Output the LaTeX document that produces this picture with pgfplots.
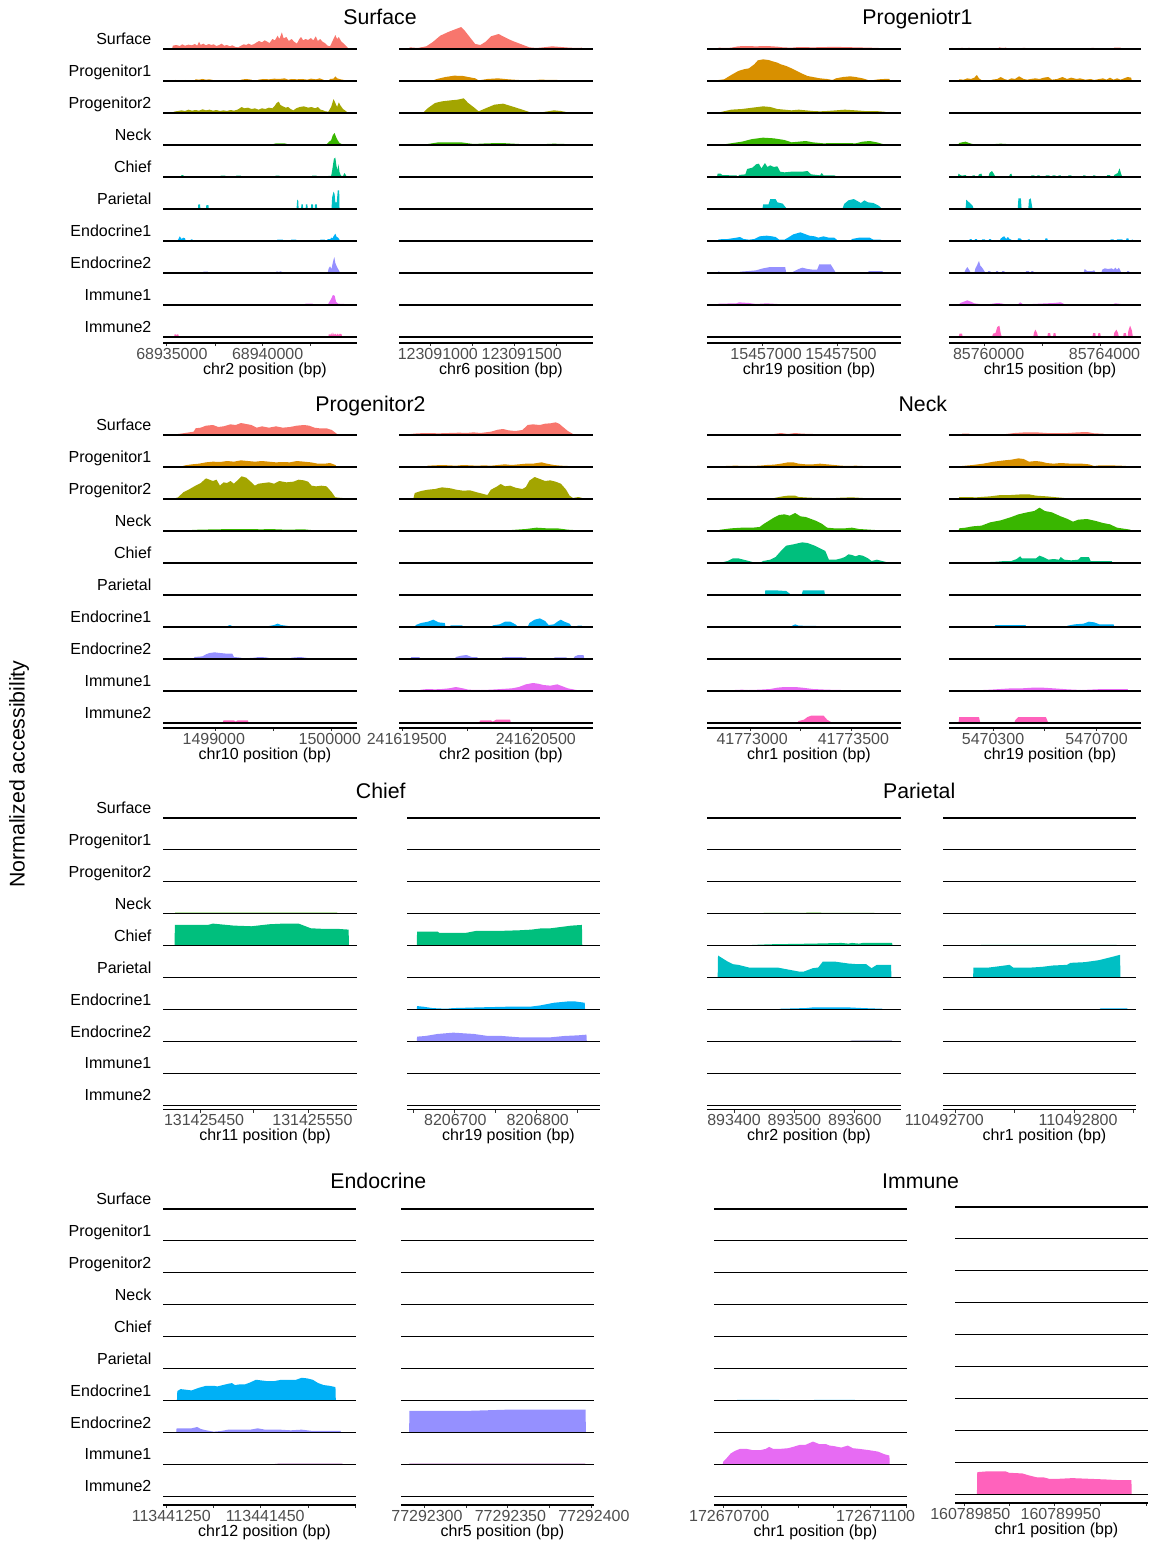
\documentclass[border=0pt]{standalone}
\usepackage{pgfplots}
\pgfplotsset{compat=1.18}
\usepackage{fontspec}
\setmainfont{Liberation Sans}
\definecolor{c1}{HTML}{F8766D}
\definecolor{c2}{HTML}{D89000}
\definecolor{c3}{HTML}{A3A500}
\definecolor{c4}{HTML}{39B600}
\definecolor{c5}{HTML}{00BF7D}
\definecolor{c6}{HTML}{00BFC4}
\definecolor{c7}{HTML}{00B0F6}
\definecolor{c8}{HTML}{9590FF}
\definecolor{c9}{HTML}{E76BF3}
\definecolor{c10}{HTML}{FF62BC}
\definecolor{tk}{HTML}{4D4D4D}
\newcommand\lab{\fontsize{8}{9.6}\selectfont}
\newcommand\ttl{\fontsize{10.65}{12.8}\selectfont}
\pgfplotsset{
  trk/.style={scale only axis, height=16pt, ymin=0, ymax=96, hide axis, clip=false, anchor=south west},
  xax/.style={scale only axis, height=1pt, ymin=0, ymax=1, anchor=south west,
    axis x line=bottom, axis y line=none, x axis line style={-, line width=0.55pt},
    tick align=outside, major tick length=1.5pt, minor tick num=0,
    xtick style={line width=0.5pt, color=black!80},
    xticklabel style={font=\lab, text=tk, anchor=base, inner sep=0pt, yshift=-6.7pt},
    scaled x ticks=false, clip=false},
}
\newcommand\AR[2]{\addplot[draw=none, fill=#1] coordinates {#2} \closedcycle;}
\newcommand\TK[2]{\begin{axis}[trk, at={(\cL*0.5pt,{-(\bz+#1*\bsp)*0.5pt})}, width=\cW, xmin=\zl, xmax=\zr]
#2
\draw[line width=0.55pt] (rel axis cs:0,0)--(rel axis cs:1,0);
\end{axis}}
\newcommand\XA[5]{\begin{axis}[xax, at={(\cL*0.5pt,{-#1*0.5pt})}, width=\cW, xmin=\zl, xmax=\zr, xtick={#2}, xticklabels={#3}, xticklabel style={xshift=#5}]
\node[font=\lab, anchor=base, yshift=-15.5pt, xshift=2.5pt] at (rel axis cs:0.5,0) {#4};
\end{axis}}
\newcommand\COL[4]{\def\cL{#1}\def\cW{#2}\def\zl{#3}\def\zr{#4}}
\begin{document}
\begin{tikzpicture}
\useasboundingbox (0,0) rectangle (577.5pt,-770.5pt);
% ---------- labels ----------
\foreach \n [count=\i from 0] in {Surface,Progenitor1,Progenitor2,Neck,Chief,Parietal,Endocrine1,Endocrine2,Immune1,Immune2}{
  \node[font=\lab, anchor=base east, inner sep=0pt] at (75.9pt,{-(49+\i*32-4.3)*0.5pt}) {\n};
  \node[font=\lab, anchor=base east, inner sep=0pt] at (75.9pt,{-(435+\i*32-4.3)*0.5pt}) {\n};
  \node[font=\lab, anchor=base east, inner sep=0pt] at (75.9pt,{-(818+\i*31.9-4.3)*0.5pt}) {\n};
  \node[font=\lab, anchor=base east, inner sep=0pt] at (75.9pt,{-(1209+\i*31.9-4.3)*0.5pt}) {\n};
}
\node[font=\ttl, anchor=base] at (190pt,-12.5pt) {Surface};
\node[font=\ttl, anchor=base] at (458.75pt,-12.5pt) {Progeniotr1};
\node[font=\ttl, anchor=base] at (185.2pt,-205.6pt) {Progenitor2};
\node[font=\ttl, anchor=base] at (461.4pt,-205.6pt) {Neck};
\node[font=\ttl, anchor=base] at (190.4pt,-399.4pt) {Chief};
\node[font=\ttl, anchor=base] at (459.6pt,-399.4pt) {Parietal};
\node[font=\ttl, anchor=base] at (189.2pt,-594.4pt) {Endocrine};
\node[font=\ttl, anchor=base] at (460.3pt,-594.4pt) {Immune};
\node[font=\ttl, rotate=90] at (9.5pt,-387pt) {Normalized accessibility};
% =================== ROW 1 ===================
\def\bz{49}\def\bsp{32}
% ---- col A
\COL{163}{97pt}{297}{852}
\TK{0}{\AR{c1}{(323,0)(325,10)(335,12)(345,9)(352,14)(360,10)(370,13)(380,11)(388,15)(395,10)(400,22)(405,12)(412,16)(420,11)(428,15)(435,12)(442,14)(450,9)(458,12)(465,16)(472,10)(480,12)(488,8)(495,11)(505,6)(512,5)(520,10)(528,14)(535,12)(542,16)(550,12)(558,15)(565,20)(572,24)(580,20)(588,26)(595,22)(602,18)(610,30)(617,26)(625,40)(630,30)(637,50)(642,32)(650,36)(657,24)(665,30)(672,22)(680,16)(687,30)(692,36)(698,26)(705,30)(712,27)(720,33)(727,26)(734,38)(740,24)(747,30)(753,22)(760,18)(768,10)(775,8)(782,24)(790,42)(795,30)(800,36)(806,24)(812,18)(818,12)(824,6)(828,0)}}
\TK{1}{\AR{c2}{(330,0)(332,3)(345,2)(360,3)(365,0)(385,0)(390,5)(400,4)(410,6)(420,4)(430,5)(440,3)(445,0)(470,0)(475,2)(500,2)(505,0)(515,0)(520,4)(535,6)(550,4)(555,0)(565,0)(570,4)(585,6)(600,5)(615,7)(630,6)(645,8)(655,4)(665,6)(680,5)(695,6)(710,4)(720,7)(735,5)(745,8)(755,4)(765,0)(770,0)(775,6)(785,7)(790,14)(795,8)(805,5)(815,3)(820,0)}}
\TK{2}{\AR{c3}{(325,0)(328,4)(340,6)(350,8)(360,6)(370,10)(380,7)(390,9)(400,7)(410,11)(420,8)(430,10)(440,7)(450,9)(460,6)(470,8)(480,6)(490,9)(500,7)(510,10)(515,13)(522,18)(530,14)(540,16)(550,12)(560,14)(570,10)(580,14)(590,12)(600,16)(610,14)(617,22)(622,30)(628,34)(633,24)(640,20)(648,16)(655,18)(662,12)(670,8)(678,14)(688,18)(700,20)(712,16)(722,18)(732,14)(740,18)(748,10)(755,8)(762,5)(770,4)(778,18)(785,42)(790,30)(795,18)(800,32)(805,22)(812,12)(820,6)(826,0)}}
\TK{3}{\AR{c4}{(300,0)(302,2)(610,2)(620,5)(645,5)(655,2)(765,2)(772,10)(778,14)(783,30)(788,36)(792,24)(797,14)(802,6)(808,3)(815,2)(820,0)}}
\TK{4}{\AR{c5}{(348,0)(350,6)(355,6)(357,0)(460,0)(462,4)(475,4)(477,0)(505,0)(507,4)(520,4)(522,0)(617,0)(619,4)(630,4)(632,0)(722,0)(724,4)(736,4)(738,0)(768,0)(770,3)(778,3)(781,20)(786,55)(790,58)(793,35)(796,20)(799,38)(802,15)(806,4)(812,3)(816,12)(820,6)(823,0)}}
\TK{5}{\AR{c6}{(397,0)(398,14)(403,14)(404,0)(420,0)(421,12)(427,12)(428,0)(679,0)(681,28)(684,24)(685,0)(692,0)(693,14)(697,14)(698,0)(705,0)(706,14)(710,14)(711,0)(720,0)(721,14)(726,14)(727,0)(731,0)(732,14)(737,14)(738,0)(779,0)(781,36)(785,52)(788,44)(790,20)(794,20)(797,56)(801,56)(802,0)}}
\TK{6}{\AR{c7}{(338,0)(340,4)(345,14)(350,6)(355,10)(360,8)(362,0)(375,0)(377,5)(381,5)(383,0)(622,0)(624,4)(640,4)(642,0)(662,0)(664,4)(678,4)(680,0)(745,0)(747,4)(760,4)(762,0)(766,0)(768,6)(776,6)(778,10)(782,8)(785,14)(790,22)(794,12)(798,10)(802,4)(804,0)}}
\TK{7}{\AR{c8}{(410,0)(413,4)(425,4)(427,0)(620,0)(622,5)(628,3)(633,5)(638,3)(640,0)(768,0)(771,14)(775,20)(779,12)(783,32)(787,48)(790,30)(794,20)(798,12)(802,4)(804,0)}}
\TK{8}{\AR{c9}{(380,0)(382,2)(400,2)(402,0)(470,0)(472,2)(480,2)(482,0)(550,0)(552,2)(570,2)(572,0)(630,0)(632,2)(640,2)(642,0)(700,0)(705,4)(725,4)(730,0)(768,0)(772,8)(778,18)(783,30)(788,28)(792,10)(798,4)(815,3)(825,0)}}
\TK{9}{\AR{c10}{(329,0)(330,8)(334,8)(335,3)(337,8)(341,8)(342,0)(770,0)(771,8)(775,8)(776,4)(778,12)(781,4)(783,14)(786,6)(790,10)(793,6)(797,10)(800,6)(803,10)(808,8)(810,0)}}
\XA{343}{308,446,582,720}{68935000,,68940000,}{chr2 position (bp)}{2.5pt}
% ---- col B
\COL{399}{97pt}{977}{1532}
\TK{0}{\AR{c1}{(1005,0)(1008,5)(1030,3)(1055,8)(1075,22)(1095,40)(1120,52)(1140,60)(1155,66)(1165,55)(1180,35)(1195,15)(1210,12)(1225,22)(1240,38)(1262,45)(1280,35)(1300,25)(1325,15)(1350,5)(1370,3)(1390,5)(1415,8)(1440,6)(1465,4)(1490,3)(1500,4)(1502,0)}}
\TK{1}{\AR{c2}{(1000,0)(1005,2)(1020,2)(1025,0)(1070,0)(1085,6)(1110,12)(1135,16)(1160,15)(1175,12)(1195,8)(1205,2)(1230,6)(1260,8)(1290,5)(1320,3)(1360,2)(1380,4)(1430,3)(1440,0)(1495,0)(1500,2)(1505,0)}}
\TK{2}{\AR{c3}{(1045,0)(1060,15)(1080,30)(1100,35)(1125,38)(1145,40)(1162,44)(1175,30)(1190,18)(1205,5)(1220,12)(1250,25)(1275,28)(1300,20)(1330,10)(1350,3)(1385,2)(1420,8)(1440,6)(1460,2)(1462,0)}}
\TK{3}{\AR{c4}{(980,0)(985,2)(1060,3)(1090,8)(1155,8)(1190,3)(1230,5)(1270,6)(1320,3)(1380,2)(1420,4)(1450,3)(1500,2)(1505,0)}}
\TK{4}{}\TK{5}{}\TK{6}{}\TK{7}{}
\TK{8}{\AR{c9}{(1050,0)(1060,3)(1140,3)(1180,2)(1260,3)(1300,0)}}
\TK{9}{}
\XA{343}{1068,1188,1308,1428}{123091000,,123091500,}{chr6 position (bp)}{3.5pt}
% ---- col C
\COL{707}{97pt}{302}{848}
\TK{0}{\AR{c1}{(330,0)(335,4)(355,3)(370,4)(390,8)(410,9)(440,8)(470,9)(500,7)(515,5)(540,4)(560,6)(600,5)(640,6)(680,6)(720,5)(760,4)(785,3)(790,0)}}
\TK{1}{\AR{c2}{(330,0)(335,3)(350,5)(370,18)(390,30)(405,35)(420,38)(435,50)(445,62)(460,65)(475,63)(490,58)(500,55)(510,50)(525,45)(540,38)(555,30)(570,22)(585,15)(600,12)(620,8)(640,6)(655,3)(665,8)(685,12)(705,14)(720,12)(740,8)(755,3)(765,2)(785,5)(800,6)(815,6)(818,0)}}
\TK{2}{\AR{c3}{(330,0)(345,4)(370,10)(400,12)(430,16)(460,20)(480,18)(500,12)(520,10)(540,8)(560,10)(580,8)(600,6)(620,5)(640,6)(665,8)(690,10)(720,8)(745,6)(775,6)(800,4)(818,0)}}
\TK{3}{\AR{c4}{(330,0)(350,2)(375,6)(400,10)(430,18)(460,22)(490,20)(520,15)(540,8)(560,10)(580,12)(600,8)(630,5)(660,6)(690,6)(720,5)(740,10)(760,12)(780,8)(800,2)(820,0)}}
\TK{4}{\AR{c5}{(330,0)(332,10)(340,10)(345,6)(370,5)(385,5)(388,0)(390,0)(392,6)(410,8)(415,24)(430,28)(440,38)(448,40)(455,26)(465,42)(472,30)(480,35)(490,30)(500,32)(508,16)(520,14)(540,16)(555,16)(570,16)(585,18)(595,8)(620,5)(625,12)(630,5)(660,5)(670,0)}}
\TK{5}{\AR{c6}{(458,0)(460,14)(475,14)(480,30)(495,30)(500,20)(515,16)(527,0)(683,0)(688,15)(700,26)(715,30)(725,24)(735,18)(745,26)(755,20)(770,18)(785,10)(795,0)}}
\TK{6}{\AR{c7}{(330,0)(335,5)(360,6)(385,10)(395,12)(405,6)(420,4)(435,6)(450,14)(470,16)(485,14)(495,12)(505,4)(520,4)(530,10)(545,20)(565,26)(575,22)(590,16)(605,14)(615,10)(630,14)(645,10)(660,10)(672,0)(705,0)(710,6)(730,10)(760,10)(770,4)(790,4)(800,0)}}
\TK{7}{\AR{c8}{(333,0)(335,6)(340,0)(393,0)(395,4)(420,6)(440,8)(460,14)(480,18)(500,18)(522,18)(525,0)(540,0)(545,4)(560,12)(570,16)(585,12)(600,10)(612,10)(618,26)(650,26)(665,0)(752,0)(758,6)(775,6)(795,6)(800,0)}}
\TK{8}{\AR{c9}{(330,0)(335,4)(385,5)(392,8)(420,6)(440,3)(470,5)(500,3)(560,3)(600,0)(615,0)(620,3)(650,3)(690,0)(730,0)(735,3)(775,3)(780,0)}}
\TK{9}{}
\XA{343}{457,668}{15457000,15457500}{chr19 position (bp)}{2pt}
% ---- col D
\COL{949}{96pt}{983}{1528}
\TK{0}{\AR{c1}{(1015,0)(1017,3)(1022,3)(1024,0)(1035,0)(1037,3)(1042,3)(1044,0)(1122,0)(1125,5)(1135,3)(1145,4)(1148,0)(1190,0)(1192,3)(1200,3)(1202,0)(1385,0)(1387,3)(1395,3)(1397,0)(1450,0)(1452,4)(1470,4)(1472,0)}}
\TK{1}{\AR{c2}{(1010,0)(1012,5)(1025,4)(1035,8)(1045,6)(1055,10)(1062,18)(1068,8)(1075,3)(1080,0)(1100,0)(1105,4)(1120,6)(1130,12)(1140,6)(1150,3)(1160,8)(1170,6)(1182,14)(1195,6)(1205,4)(1215,6)(1228,8)(1240,6)(1252,10)(1265,12)(1275,4)(1290,6)(1305,12)(1318,6)(1330,10)(1345,6)(1355,8)(1370,4)(1385,6)(1395,3)(1410,6)(1420,8)(1430,4)(1440,10)(1450,4)(1460,8)(1470,4)(1480,8)(1490,12)(1500,10)(1502,0)}}
\TK{2}{\AR{c3}{(985,0)(990,2)(1060,3)(1120,2)(1200,3)(1300,2)(1400,2)(1490,2)(1495,0)}}
\TK{3}{\AR{c4}{(1008,0)(1012,6)(1020,8)(1030,10)(1040,6)(1050,3)(1080,3)(1100,2)(1130,4)(1160,2)(1200,3)(1270,3)(1300,2)(1400,2)(1500,2)(1505,0)}}
\TK{4}{\AR{c5}{(1008,0)(1010,10)(1015,6)(1020,4)(1030,6)(1035,0)(1048,0)(1050,5)(1056,5)(1058,0)(1065,0)(1068,8)(1075,10)(1078,0)(1095,0)(1098,12)(1105,18)(1110,10)(1115,0)(1153,0)(1156,8)(1160,10)(1163,0)(1215,0)(1217,5)(1225,5)(1227,0)(1232,0)(1234,5)(1240,5)(1242,0)(1256,0)(1258,5)(1268,5)(1270,0)(1275,0)(1277,5)(1285,5)(1287,0)(1292,0)(1294,5)(1300,5)(1302,0)(1320,0)(1322,5)(1330,5)(1332,0)(1362,0)(1364,5)(1370,5)(1372,0)(1390,0)(1392,5)(1398,5)(1400,0)(1430,0)(1432,6)(1440,6)(1442,0)(1450,0)(1452,6)(1462,12)(1467,26)(1472,8)(1475,0)}}
\TK{5}{\AR{c6}{(1030,0)(1032,28)(1040,20)(1050,10)(1053,0)(1178,0)(1180,32)(1187,32)(1189,0)(1208,0)(1210,28)(1215,32)(1220,0)}}
\TK{6}{\AR{c7}{(1040,0)(1042,6)(1047,6)(1049,0)(1055,0)(1057,6)(1062,6)(1064,0)(1075,0)(1077,5)(1085,5)(1087,0)(1095,0)(1097,6)(1102,6)(1104,0)(1127,0)(1129,6)(1135,12)(1140,14)(1145,6)(1150,12)(1155,6)(1160,4)(1163,0)(1177,0)(1179,8)(1185,8)(1190,3)(1192,0)(1205,0)(1207,5)(1212,5)(1214,0)(1255,0)(1257,8)(1262,8)(1264,0)(1440,0)(1442,5)(1450,5)(1452,0)(1458,0)(1460,5)(1475,5)(1477,0)(1485,0)(1487,8)(1492,8)(1494,0)(1500,0)(1502,4)(1505,4)(1507,0)}}
\TK{7}{\AR{c8}{(1026,0)(1030,10)(1035,18)(1040,10)(1045,0)(1055,0)(1058,14)(1063,24)(1068,36)(1072,22)(1077,16)(1082,8)(1087,0)(1092,0)(1094,6)(1100,6)(1102,0)(1115,0)(1117,6)(1122,6)(1124,0)(1132,0)(1134,6)(1140,6)(1142,0)(1200,0)(1202,6)(1210,6)(1212,0)(1215,0)(1217,6)(1222,6)(1224,0)(1365,0)(1368,12)(1375,6)(1390,6)(1395,8)(1400,0)(1415,0)(1418,10)(1425,14)(1435,12)(1445,14)(1450,10)(1455,16)(1460,10)(1465,16)(1470,6)(1472,0)(1487,0)(1489,6)(1494,6)(1496,0)}}
\TK{8}{\AR{c9}{(1010,0)(1015,6)(1025,10)(1035,14)(1045,10)(1055,5)(1070,3)(1100,3)(1120,6)(1130,5)(1140,3)(1180,3)(1185,8)(1192,3)(1220,3)(1260,5)(1280,6)(1300,8)(1310,3)(1350,3)(1380,3)(1420,3)(1450,3)(1455,5)(1470,3)(1485,3)(1500,3)(1502,0)}}
\TK{9}{\AR{c10}{(1010,0)(1013,10)(1020,10)(1022,0)(1105,0)(1108,10)(1115,12)(1120,30)(1126,34)(1130,10)(1133,0)(1222,0)(1224,12)(1228,22)(1233,12)(1236,0)(1262,0)(1264,12)(1270,12)(1272,0)(1278,0)(1280,12)(1285,12)(1287,0)(1390,0)(1392,12)(1398,12)(1400,0)(1405,0)(1407,12)(1412,12)(1414,0)(1450,0)(1452,12)(1458,22)(1463,12)(1465,0)(1477,0)(1479,12)(1485,12)(1487,0)(1490,0)(1492,18)(1497,34)(1502,20)(1505,0)}}
\XA{343}{1083,1248,1412}{85760000,,85764000}{chr15 position (bp)}{2.2pt}
% =================== ROW 2 ===================
\def\bz{435}\def\bsp{32}
\COL{163}{97pt}{297}{852}
\TK{0}{\AR{c1}{(325,0)(340,3)(360,6)(385,10)(390,20)(405,22)(420,28)(440,30)(455,24)(470,26)(490,32)(505,30)(520,36)(530,34)(550,30)(565,22)(580,26)(600,22)(620,26)(640,22)(660,24)(680,28)(700,30)(715,28)(730,22)(745,20)(765,20)(780,15)(795,3)(800,0)}}
\TK{1}{\AR{c2}{(345,0)(360,5)(380,8)(400,10)(420,14)(440,16)(460,15)(480,18)(500,16)(520,20)(540,18)(560,16)(580,18)(600,16)(620,14)(640,15)(660,14)(680,18)(700,16)(720,14)(740,10)(760,10)(775,12)(790,6)(795,0)}}
\TK{2}{\AR{c3}{(325,0)(340,5)(355,20)(370,28)(390,40)(405,48)(420,62)(430,58)(440,54)(450,58)(460,40)(470,50)(480,48)(490,54)(500,46)(510,56)(522,68)(535,64)(550,50)(560,40)(570,46)(585,48)(600,50)(615,46)(630,54)(650,50)(670,52)(685,58)(700,56)(712,52)(722,40)(735,38)(750,40)(765,38)(780,20)(790,5)(810,3)(822,2)(825,0)}}
\TK{3}{\AR{c4}{(350,0)(380,3)(400,4)(450,5)(500,6)(540,6)(580,5)(600,6)(650,4)(700,5)(720,3)(760,2)(800,0)}}
\TK{4}{\AR{c5}{(800,0)(802,3)(822,3)(825,0)}}
\TK{5}{}
\TK{6}{\AR{c7}{(457,0)(460,2)(482,3)(488,6)(495,3)(518,3)(520,0)(598,0)(600,3)(615,6)(625,10)(635,6)(655,3)(660,0)(684,0)(686,3)(715,3)(717,0)}}
\TK{7}{\AR{c8}{(385,0)(387,6)(410,8)(420,14)(430,18)(445,20)(460,18)(480,16)(495,16)(500,6)(520,4)(525,0)(540,0)(545,3)(560,4)(570,6)(590,5)(600,3)(630,3)(632,0)(660,0)(665,4)(690,6)(710,3)(715,0)}}
\TK{8}{\AR{c9}{(395,0)(400,2)(410,2)(412,0)(605,0)(610,3)(650,2)(680,2)(685,0)}}
\TK{9}{\AR{c10}{(468,0)(470,8)(500,8)(505,4)(510,8)(540,8)(542,0)}}
\XA{728}{448,613,780}{1499000,,1500000}{chr10 position (bp)}{-1pt}
\COL{399}{97pt}{977}{1532}
\TK{0}{\AR{c1}{(1005,0)(1010,3)(1030,5)(1060,6)(1090,5)(1120,6)(1150,7)(1170,6)(1190,8)(1210,6)(1240,10)(1260,16)(1275,18)(1290,14)(1310,12)(1330,15)(1345,30)(1360,32)(1380,30)(1395,34)(1410,35)(1425,38)(1435,34)(1445,25)(1460,12)(1475,3)(1490,3)(1492,0)}}
\TK{1}{\AR{c2}{(1050,0)(1060,4)(1080,5)(1100,6)(1120,5)(1140,4)(1160,6)(1180,5)(1200,4)(1220,5)(1240,4)(1260,6)(1280,8)(1300,6)(1320,8)(1340,10)(1360,10)(1385,14)(1400,10)(1420,6)(1440,4)(1460,3)(1478,2)(1480,0)}}
\TK{2}{\AR{c3}{(1018,0)(1022,18)(1040,24)(1060,28)(1080,30)(1100,35)(1125,32)(1140,28)(1160,25)(1180,26)(1200,20)(1215,16)(1230,12)(1240,28)(1255,36)(1268,45)(1280,38)(1295,40)(1310,34)(1330,30)(1340,36)(1350,55)(1365,66)(1380,60)(1395,54)(1410,56)(1425,52)(1440,46)(1455,28)(1465,10)(1475,3)(1490,6)(1505,2)(1507,0)}}
\TK{3}{\AR{c4}{(980,0)(990,2)(1050,3)(1100,2)(1150,2)(1250,2)(1300,3)(1340,6)(1370,10)(1400,8)(1430,8)(1460,4)(1490,2)(1500,0)}}
\TK{4}{}\TK{5}{}
\TK{6}{\AR{c7}{(1022,0)(1025,6)(1040,12)(1060,16)(1075,22)(1090,14)(1108,12)(1110,0)(1122,0)(1125,5)(1158,5)(1160,0)(1243,0)(1245,5)(1265,8)(1280,16)(1295,16)(1310,8)(1318,0)(1345,0)(1350,12)(1365,22)(1380,26)(1395,18)(1405,6)(1420,8)(1430,16)(1440,22)(1450,16)(1465,10)(1472,0)(1485,0)(1488,4)(1500,4)(1503,0)}}
\TK{7}{\AR{c8}{(1010,0)(1012,6)(1035,6)(1038,0)(1135,0)(1140,6)(1155,10)(1170,12)(1185,6)(1200,6)(1205,0)(1270,0)(1272,5)(1300,6)(1340,5)(1345,0)(1420,0)(1422,5)(1455,5)(1460,0)(1475,0)(1480,8)(1490,12)(1505,12)(1507,0)}}
\TK{8}{\AR{c9}{(1030,0)(1040,4)(1060,6)(1080,5)(1100,6)(1120,8)(1140,12)(1160,8)(1175,4)(1210,3)(1240,4)(1270,6)(1300,8)(1320,12)(1340,20)(1360,24)(1375,22)(1390,18)(1410,16)(1430,20)(1445,14)(1460,8)(1480,4)(1500,0)}}
\TK{9}{\AR{c10}{(1205,0)(1210,8)(1240,8)(1245,4)(1255,10)(1295,10)(1297,0)}}
\XA{728}{988,1172,1357}{241619500,,241620500}{chr2 position (bp)}{2pt}
\COL{707}{97pt}{302}{848}
\TK{0}{\AR{c1}{(455,0)(460,2)(490,3)(510,6)(530,3)(550,6)(570,4)(600,3)(612,0)}}
\TK{1}{\AR{c2}{(345,0)(355,3)(380,4)(420,3)(450,4)(470,6)(490,7)(510,10)(530,14)(545,14)(560,10)(580,8)(600,8)(620,10)(640,8)(660,6)(680,4)(700,3)(720,4)(740,3)(760,2)(765,0)}}
\TK{2}{\AR{c3}{(480,0)(495,4)(515,8)(530,10)(550,10)(560,6)(590,4)(620,3)(650,2)(680,4)(710,5)(740,3)(760,2)(765,0)}}
\TK{3}{\AR{c4}{(325,0)(340,4)(370,8)(400,10)(430,10)(450,12)(460,20)(475,30)(490,40)(505,48)(520,50)(535,46)(550,54)(565,44)(580,42)(595,36)(610,30)(625,22)(640,10)(660,8)(690,8)(710,10)(730,6)(760,4)(790,2)(820,2)(822,0)}}
\TK{4}{\AR{c5}{(340,0)(345,2)(360,6)(375,14)(390,14)(405,10)(420,6)(430,3)(435,0)(450,0)(460,6)(480,10)(495,18)(510,36)(525,52)(545,56)(570,62)(585,60)(605,52)(620,44)(635,36)(645,10)(665,10)(680,14)(690,18)(700,26)(710,24)(720,20)(730,24)(740,22)(755,14)(765,6)(780,10)(795,6)(810,2)(820,0)}}
\TK{5}{\AR{c6}{(465,0)(466,14)(495,14)(525,12)(540,0)(568,0)(572,14)(632,14)(634,0)}}
\TK{6}{\AR{c7}{(498,0)(500,2)(540,3)(550,8)(560,4)(610,3)(613,0)}}
\TK{7}{}
\TK{8}{\AR{c9}{(350,0)(360,2)(400,4)(420,3)(450,4)(480,6)(500,10)(520,12)(550,12)(570,10)(600,6)(640,4)(680,3)(700,3)(740,2)(742,0)}}
\TK{9}{\AR{c10}{(555,0)(560,6)(575,10)(585,18)(595,22)(630,22)(640,10)(655,0)}}
\XA{728}{425,565,710}{41773000,,41773500}{chr1 position (bp)}{0.7pt}
\COL{949}{96pt}{983}{1528}
\TK{0}{\AR{c1}{(1018,0)(1020,4)(1040,4)(1045,0)(1130,0)(1145,3)(1170,6)(1200,8)(1230,8)(1260,6)(1290,6)(1320,6)(1350,8)(1375,9)(1395,5)(1420,4)(1430,0)(1495,0)(1498,3)(1503,3)(1505,0)}}
\TK{1}{\AR{c2}{(1010,0)(1020,3)(1050,6)(1080,10)(1110,16)(1140,20)(1160,22)(1180,26)(1195,24)(1210,16)(1230,18)(1245,16)(1260,12)(1280,10)(1300,12)(1330,10)(1360,10)(1380,8)(1395,3)(1410,5)(1440,5)(1470,4)(1500,2)(1505,0)}}
\TK{2}{\AR{c3}{(1010,0)(1012,6)(1030,6)(1060,5)(1100,8)(1130,12)(1160,12)(1190,14)(1210,14)(1230,10)(1260,8)(1290,5)(1320,2)(1335,0)}}
\TK{3}{\AR{c4}{(1010,0)(1012,8)(1030,10)(1050,14)(1075,16)(1100,26)(1130,32)(1160,42)(1180,50)(1205,56)(1225,60)(1240,70)(1255,60)(1275,56)(1300,44)(1320,36)(1335,28)(1350,34)(1375,36)(1400,30)(1420,24)(1440,20)(1460,10)(1485,6)(1498,4)(1500,0)}}
\TK{4}{\AR{c5}{(1090,0)(1100,3)(1120,4)(1140,6)(1160,6)(1175,12)(1185,20)(1190,14)(1210,14)(1230,14)(1240,22)(1250,18)(1265,10)(1280,12)(1295,10)(1300,18)(1310,10)(1330,8)(1350,10)(1357,18)(1380,18)(1385,6)(1420,6)(1445,6)(1447,0)}}
\TK{5}{}
\TK{6}{\AR{c7}{(1110,0)(1115,6)(1200,6)(1203,0)(1313,0)(1320,4)(1340,8)(1365,10)(1380,16)(1395,14)(1410,8)(1450,8)(1453,0)}}
\TK{7}{}
\TK{8}{\AR{c9}{(1040,0)(1060,2)(1100,4)(1130,6)(1160,8)(1190,8)(1220,10)(1250,10)(1280,8)(1320,5)(1360,3)(1380,4)(1420,6)(1450,6)(1490,6)(1492,0)}}
\TK{9}{\AR{c10}{(1010,0)(1012,18)(1068,18)(1072,0)(1168,0)(1172,10)(1180,18)(1258,18)(1265,0)}}
\XA{728}{1108,1255,1402}{5470300,,5470700}{chr19 position (bp)}{0pt}
% =================== ROW 3 ===================
\def\bz{818}\def\bsp{31.9}
\COL{163}{97pt}{297}{852}
\TK{0}{}\TK{1}{}\TK{2}{}
\TK{3}{\AR{c4}{(330,0)(332,3)(795,3)(797,0)}}
\TK{4}{\AR{c5}{(330,0)(331,62)(380,62)(425,62)(440,66)(460,64)(500,60)(550,58)(600,64)(640,66)(685,66)(720,52)(760,50)(800,50)(828,48)(829,0)}}
\TK{5}{}\TK{6}{}\TK{7}{}\TK{8}{}\TK{9}{}
\XA{1109.5}{403,557,713}{131425450,,131425550}{chr11 position (bp)}{2pt}
\COL{407}{96.5pt}{997}{1552}
\TK{0}{}\TK{1}{}\TK{2}{}
\TK{3}{\AR{c4}{(1022,0)(1025,2)(1075,2)(1080,0)}}
\TK{4}{\AR{c5}{(1025,0)(1026,42)(1085,42)(1090,38)(1165,38)(1195,44)(1260,44)(1320,46)(1355,48)(1385,52)(1410,52)(1440,56)(1470,60)(1500,62)(1501,0)}}
\TK{5}{}
\TK{6}{\AR{c7}{(1025,0)(1026,10)(1045,8)(1070,4)(1110,2)(1130,4)(1200,6)(1280,8)(1350,8)(1380,12)(1420,20)(1460,24)(1480,24)(1508,20)(1509,0)}}
\TK{7}{\AR{c8}{(1025,0)(1026,14)(1050,16)(1085,22)(1130,26)(1160,24)(1190,22)(1230,16)(1270,16)(1320,12)(1360,12)(1410,12)(1450,16)(1490,18)(1513,20)(1514,0)}}
\TK{8}{}\TK{9}{}
\XA{1109.5}{1015,1133,1252,1370,1488}{,8206700,,8206800,}{chr19 position (bp)}{0.5pt}
\COL{707}{97pt}{302}{848}
\TK{0}{}\TK{1}{}\TK{2}{}
\TK{3}{\AR{c4}{(330,0)(335,1)(440,2)(600,3)(800,2)(805,0)}}
\TK{4}{\AR{c5}{(420,0)(430,2)(480,4)(540,5)(600,6)(680,8)(700,6)(710,8)(730,6)(740,8)(823,8)(824,0)}}
\TK{5}{\AR{c6}{(332,0)(333,66)(345,58)(360,48)(375,40)(390,38)(420,30)(460,30)(500,30)(530,24)(560,18)(575,18)(600,28)(615,30)(628,48)(660,48)(700,42)(725,40)(750,40)(765,28)(780,38)(800,38)(820,38)(821,0)}}
\TK{6}{\AR{c7}{(500,0)(510,2)(580,4)(600,6)(700,6)(740,4)(795,2)(797,0)}}
\TK{7}{\AR{c8!60!black}{(700,0)(710,2)(822,2)(824,0)}}
\TK{8}{}\TK{9}{}
\XA{1109.5}{378,548,718}{893400,893500,893600}{chr2 position (bp)}{0pt}
\COL{943}{96.5pt}{970}{1515}
\TK{0}{\AR{c1}{(1095,0)(1100,2)(1490,2)(1495,0)}}
\TK{1}{}\TK{2}{}\TK{3}{}
\TK{4}{\AR{c5}{(1075,0)(1078,2)(1460,2)(1462,0)}}
\TK{5}{\AR{c6}{(1055,0)(1056,30)(1100,30)(1130,34)(1158,38)(1168,30)(1220,30)(1250,32)(1280,36)(1320,38)(1330,44)(1370,46)(1410,52)(1440,60)(1470,68)(1471,0)}}
\TK{6}{\AR{c7}{(1410,0)(1415,3)(1490,3)(1492,0)}}
\TK{7}{}\TK{8}{}\TK{9}{}
\XA{1109.5}{1005,1172,1340,1508}{\hspace*{-15pt}110492700,,110492800,}{chr1 position (bp)}{2pt}
% =================== ROW 4 ===================
\def\bz{1209}\def\bsp{31.9}
\COL{163}{96.5pt}{282}{808}
\TK{0}{}\TK{1}{}\TK{2}{}\TK{3}{}\TK{4}{}\TK{5}{}
\TK{6}{\AR{c7}{(320,0)(321,28)(330,34)(345,32)(360,30)(380,38)(400,44)(420,44)(430,42)(445,46)(460,50)(470,52)(478,46)(490,48)(505,48)(520,54)(535,62)(550,60)(565,58)(585,58)(605,62)(630,62)(645,62)(660,68)(675,66)(690,62)(705,52)(720,46)(735,44)(752,40)(753,0)}}
\TK{7}{\AR{c8}{(318,0)(319,12)(340,12)(360,12)(375,16)(385,10)(400,6)(420,2)(440,4)(460,8)(490,8)(520,8)(540,12)(560,8)(600,8)(630,6)(660,8)(690,4)(730,4)(766,4)(767,0)}}
\TK{8}{\AR{c9!70!black}{(580,0)(600,2)(770,2)(772,0)}}
\TK{9}{}
\XA{1505}{292,420,548,678,806}{113441250,,113441450,,}{chr12 position (bp)}{2.3pt}
\COL{401}{96.5pt}{930}{1455}
\TK{0}{}\TK{1}{}\TK{2}{}\TK{3}{}\TK{4}{}\TK{5}{}\TK{6}{}
\TK{7}{\AR{c8}{(952,0)(953,64)(1000,64)(1100,64)(1160,66)(1220,68)(1300,68)(1432,68)(1433,0)}}
\TK{8}{\AR{c9!70!black}{(950,0)(955,2)(1430,2)(1432,0)}}
\TK{9}{}
\XA{1505}{993,1107,1220,1333,1447}{77292300,,77292350,,77292400}{chr5 position (bp)}{1.4pt}
\COL{714}{96.5pt}{222}{803}
\TK{0}{}\TK{1}{}\TK{2}{}\TK{3}{}\TK{4}{}\TK{5}{}
\TK{6}{\AR{c7}{(290,0)(292,2)(418,2)(420,0)(522,0)(524,2)(645,2)(647,0)}}
\TK{7}{}
\TK{8}{\AR{c9}{(248,0)(250,8)(260,18)(272,32)(285,40)(300,46)(320,46)(340,42)(360,42)(378,46)(388,52)(400,46)(420,46)(445,48)(460,52)(480,58)(497,58)(520,68)(540,60)(560,60)(570,56)(585,54)(605,50)(625,56)(640,48)(660,46)(690,42)(715,38)(735,30)(750,26)(751,0)}}
\TK{9}{}
\XA{1505}{252,365,475,583,693,802}{172670700,,,,172671100,}{chr1 position (bp)}{2.6pt}
\def\bz{1207}
\COL{955}{96.5pt}{947}{1528}
\TK{0}{}\TK{1}{}\TK{2}{}\TK{3}{}\TK{4}{}\TK{5}{}\TK{6}{}\TK{7}{}\TK{8}{}
\TK{9}{\AR{c10}{(1013,0)(1014,66)(1040,68)(1070,68)(1100,68)(1110,64)(1150,62)(1170,56)(1195,50)(1215,50)(1230,46)(1260,46)(1300,48)(1350,46)(1400,44)(1440,42)(1478,42)(1479,0)}}
\XA{1503}{975,1110,1247,1385,1522}{160789850,,160789950,,}{chr1 position (bp)}{3pt}
\end{tikzpicture}
\end{document}
